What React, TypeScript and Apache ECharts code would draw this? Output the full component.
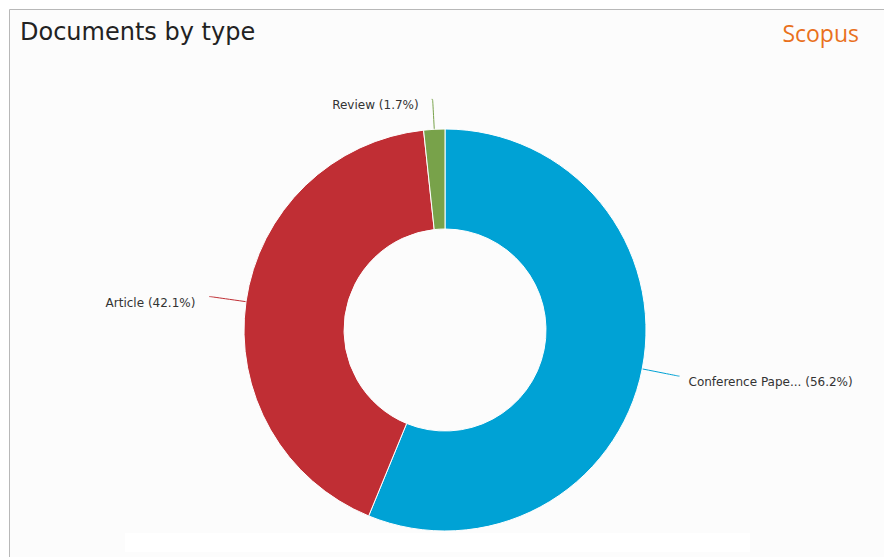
import React, { useEffect, useRef } from "react";
import * as echarts from "echarts";

const categories = ["Conference Pape...", "Article", "Review"];
const percents = [56.2, 42.1, 1.7];
const colors = ["#00A2D5", "#C02E34", "#78A24A"];
const lineLengths = [37, 36, 30];
const labelGaps = [9, 14, 13];
const titleText = "Documents by type";
const brandText = "Scopus";

export default function App() {
  const ref = useRef<HTMLDivElement>(null);
  useEffect(() => {
    if (!ref.current) return;
    const chart = echarts.init(ref.current, null, { renderer: "svg" });
    const data = categories.map((name, i) => ({
      name,
      value: percents[i],
      itemStyle: { color: colors[i] },
      label: { distanceToLabelLine: labelGaps[i] },
      labelLine: { length: lineLengths[i], lineStyle: { color: colors[i] } },
    }));
    chart.setOption({
      animation: false,
      backgroundColor: "#ffffff",
      graphic: [
        {
          type: "rect",
          z: -10,
          shape: { x: 9.5, y: 9.5, width: 900, height: 600 },
          style: { fill: "#fcfcfc", stroke: "#b8b8b8", lineWidth: 1 },
        },
        {
          type: "rect",
          z: -9,
          shape: { x: 125, y: 533, width: 625, height: 19 },
          style: { fill: "#ffffff" },
        },
        {
          type: "text",
          left: 20,
          top: 20,
          style: {
            text: titleText,
            font: "24px 'DejaVu Sans'",
            fill: "#222222",
          },
        },
        {
          type: "text",
          right: 25,
          top: 21,
          style: {
            text: brandText,
            font: "23px 'Open Sans'",
            fill: "#E9711C",
          },
        },
      ],
      series: [
        {
          type: "pie",
          center: [445, 330],
          radius: [101, 201],
          startAngle: 90,
          clockwise: true,
          avoidLabelOverlap: true,
          itemStyle: { borderColor: "#ffffff", borderWidth: 1 },
          label: {
            show: true,
            formatter: (p: any) => `{s| }\n{t|${p.name} (${p.value.toFixed(1)}%)}`,
            rich: {
              s: { height: 12, fontSize: 1 },
              t: {
                fontFamily: "'DejaVu Sans'",
                fontSize: 12,
                color: "#333333",
                height: 14,
              },
            },
          },
          labelLine: {
            show: true,
            length2: 1,
            smooth: 0.3,
            lineStyle: { width: 1 },
          },
          emphasis: { disabled: true },
          data,
        },
      ],
    });
    return () => chart.dispose();
  }, []);
  return (
    <div
      ref={ref}
      style={{ position: "absolute", left: 0, top: 0, width: 884, height: 557 }}
    />
  );
}
